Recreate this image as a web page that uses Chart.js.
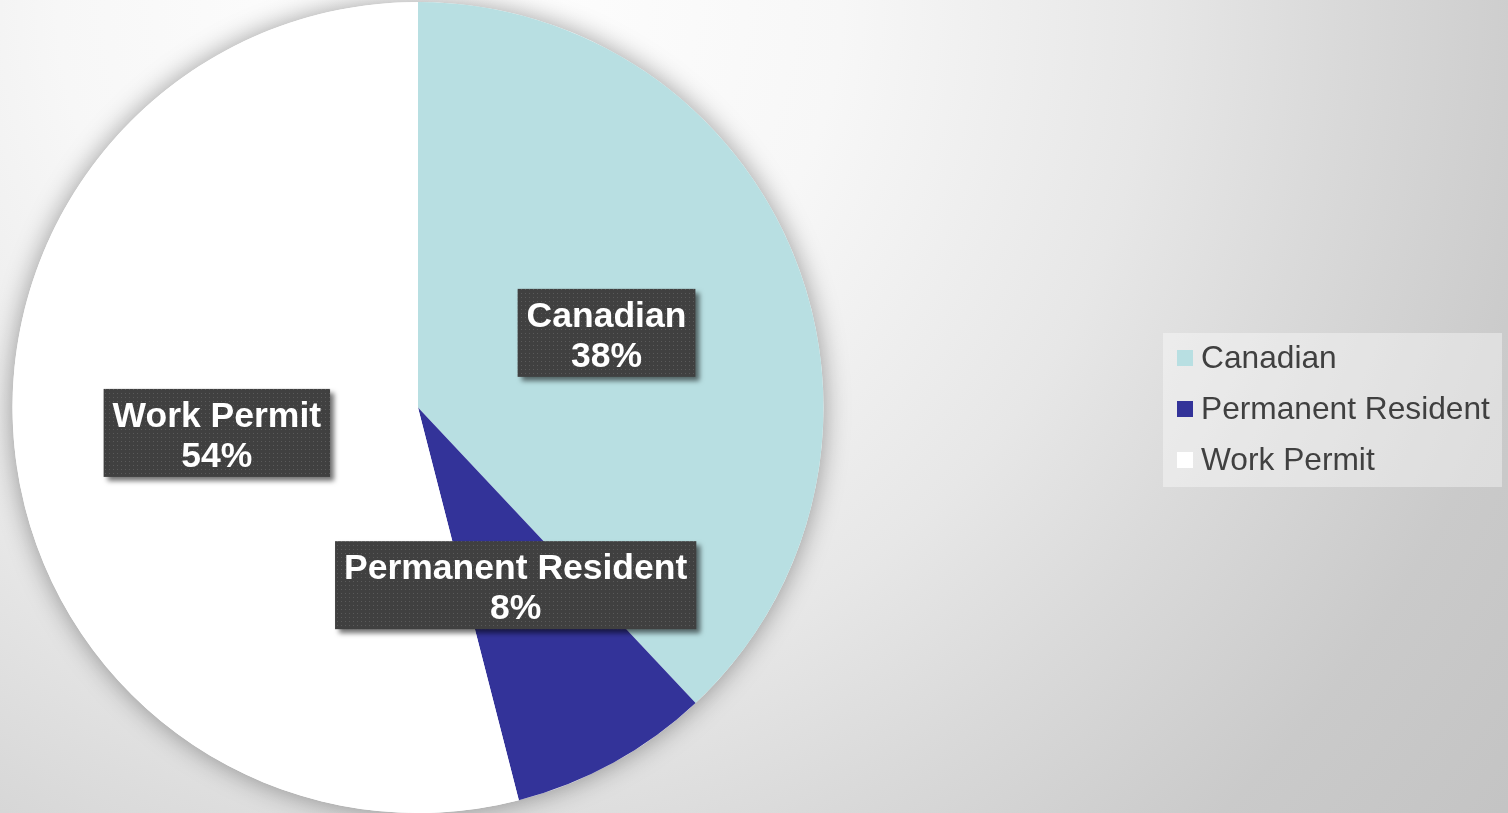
<!DOCTYPE html>
<html lang="en">
<head>
    <meta charset="UTF-8">
    <title>Status</title>
    <script src="https://cdn.jsdelivr.net/npm/chart.js"></script>
    <style>
        html, body { margin: 0; padding: 0; }
        body {
            width: 1508px; height: 813px; overflow: hidden;
            background: radial-gradient(circle 1400px at 450px 0px, #ffffff 0%, #f7f7f7 28%, #e7e7e7 50%, #dadada 63%, #cacaca 80%, #c2c2c2 100%);
        }
        #wrap { position: relative; width: 1508px; height: 813px; }
    </style>
</head>
<body>
<div id="wrap"><canvas id="statusChart" width="1508" height="813"></canvas></div>

<script>
    // chart values
    const categories = ['Canadian', 'Permanent Resident', 'Work Permit'];
    const shares = [38, 8, 54];
    const sliceColors = ['#b8dfe2', '#333399', '#ffffff'];

    // dotted fill used by the data labels
    function dotPattern(ctx) {
        const c = document.createElement('canvas');
        c.width = 4; c.height = 4;
        const p = c.getContext('2d');
        p.fillStyle = '#404040';
        p.fillRect(0, 0, 4, 4);
        p.fillStyle = '#5a5a5a';
        p.fillRect(1, 1, 1, 1);
        return ctx.createPattern(c, 'repeat');
    }

    // soft shadow under the whole pie
    const pieShadow = {
        id: 'pieShadow',
        beforeDatasetsDraw(chart) {
            const arc = chart.getDatasetMeta(0).data[0];
            if (!arc) return;
            const ctx = chart.ctx;
            ctx.save();
            ctx.shadowColor = 'rgba(0,0,0,0.38)';
            ctx.shadowBlur = 26;
            ctx.fillStyle = '#ffffff';
            ctx.beginPath();
            ctx.arc(arc.x, arc.y, arc.outerRadius, 0, Math.PI * 2);
            ctx.fill();
            ctx.restore();
        }
    };

    // dark boxed labels in the middle of each slice
    const boxLabels = {
        id: 'boxLabels',
        afterDatasetsDraw(chart) {
            const ctx = chart.ctx;
            const meta = chart.getDatasetMeta(0);
            const pattern = dotPattern(ctx);
            ctx.save();
            ctx.font = 'bold 35.5px "Liberation Sans", Arial, sans-serif';
            ctx.textAlign = 'center';
            ctx.textBaseline = 'middle';
            meta.data.forEach((arc, i) => {
                const pos = arc.tooltipPosition();
                const lines = [categories[i], shares[i] + '%'];
                const w = Math.max(...lines.map(t => ctx.measureText(t).width)) + 18;
                const h = 88;
                const x = pos.x - w / 2, y = pos.y - h / 2;
                ctx.save();
                ctx.shadowColor = 'rgba(0,0,0,0.55)';
                ctx.shadowBlur = 5;
                ctx.shadowOffsetX = 4;
                ctx.shadowOffsetY = 4;
                ctx.fillStyle = pattern;
                ctx.fillRect(x, y, w, h);
                ctx.restore();
                ctx.fillStyle = '#ffffff';
                ctx.fillText(lines[0], pos.x, pos.y - 16);
                ctx.fillText(lines[1], pos.x, pos.y + 24);
            });
            ctx.restore();
        }
    };

    // legend box on the right
    const sideLegend = {
        id: 'sideLegend',
        afterDraw(chart) {
            const ctx = chart.ctx;
            ctx.save();
            ctx.fillStyle = 'rgba(255,255,255,0.38)';
            ctx.fillRect(1163, 333, 339, 154);
            ctx.font = '31.7px "Liberation Sans", Arial, sans-serif';
            ctx.textBaseline = 'middle';
            categories.forEach((name, i) => {
                const cy = 358 + i * 51;
                ctx.fillStyle = sliceColors[i];
                ctx.fillRect(1177, cy - 8, 16, 16);
                ctx.fillStyle = '#404040';
                ctx.fillText(name, 1201, cy + 1);
            });
            ctx.restore();
        }
    };

    const ctx = document.getElementById('statusChart').getContext('2d');
    new Chart(ctx, {
        type: 'pie',
        data: {
            labels: categories,
            datasets: [{
                data: shares,
                backgroundColor: sliceColors,
                borderWidth: 0
            }]
        },
        options: {
            responsive: false,
            animation: false,
            layout: { padding: { left: 0, top: 2, right: 672, bottom: 0 } },
            plugins: {
                legend: { display: false },
                tooltip: { enabled: false }
            }
        },
        plugins: [pieShadow, boxLabels, sideLegend]
    });
</script>
</body>
</html>
